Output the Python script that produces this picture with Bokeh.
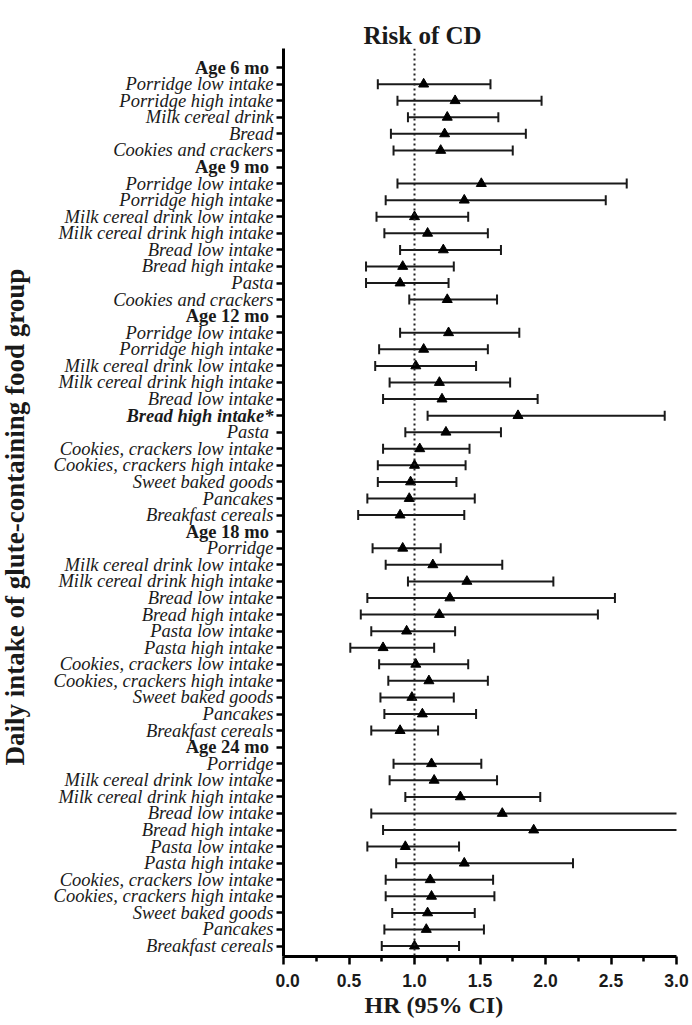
import math
import numpy as np
from bokeh.plotting import figure
from bokeh.layouts import row
from bokeh.models import (ColumnDataSource, Range1d, FixedTicker, Span, Title,
                          NumeralTickFormatter)
from bokeh.core.properties import value, field
from bokeh.embed import file_html
from bokeh.resources import INLINE

# ---------------- data ----------------
labels = [
    "Age 6 mo\u00a0", "Porridge low intake", "Porridge high intake", "Milk cereal drink",
    "Bread", "Cookies and crackers",
    "Age 9 mo\u00a0", "Porridge low intake", "Porridge high intake",
    "Milk cereal drink low intake", "Milk cereal drink high intake", "Bread low intake",
    "Bread high intake", "Pasta", "Cookies and crackers",
    "Age 12 mo\u00a0", "Porridge low intake", "Porridge high intake",
    "Milk cereal drink low intake", "Milk cereal drink high intake", "Bread low intake",
    "Bread high intake*", "Pasta\u00a0", "Cookies, crackers low intake",
    "Cookies, crackers high intake", "Sweet baked goods", "Pancakes", "Breakfast cereals",
    "Age 18 mo\u00a0", "Porridge", "Milk cereal drink low intake",
    "Milk cereal drink high intake", "Bread low intake", "Bread high intake",
    "Pasta low intake", "Pasta high intake", "Cookies, crackers low intake",
    "Cookies, crackers high intake", "Sweet baked goods", "Pancakes", "Breakfast cereals",
    "Age 24 mo\u00a0", "Porridge", "Milk cereal drink low intake",
    "Milk cereal drink high intake", "Bread low intake", "Bread high intake",
    "Pasta low intake", "Pasta high intake", "Cookies, crackers low intake",
    "Cookies, crackers high intake", "Sweet baked goods", "Pancakes", "Breakfast cereals",
]

hr = [
    None, 1.07, 1.31, 1.25, 1.23, 1.20,
    None, 1.51, 1.38, 1.00, 1.10, 1.22, 0.91, 0.89, 1.25,
    None, 1.26, 1.07, 1.01, 1.19, 1.21, 1.79, 1.24, 1.04, 1.00, 0.97, 0.96, 0.89,
    None, 0.91, 1.14, 1.40, 1.27, 1.19, 0.94, 0.76, 1.01, 1.11, 0.98, 1.06, 0.89,
    None, 1.13, 1.15, 1.35, 1.67, 1.91, 0.93, 1.38, 1.12, 1.13, 1.10, 1.09, 1.00,
]
ci_low = [
    None, 0.72, 0.87, 0.95, 0.82, 0.84,
    None, 0.87, 0.78, 0.71, 0.77, 0.89, 0.63, 0.63, 0.96,
    None, 0.89, 0.73, 0.70, 0.81, 0.76, 1.10, 0.93, 0.76, 0.72, 0.72, 0.64, 0.57,
    None, 0.68, 0.78, 0.95, 0.64, 0.59, 0.67, 0.51, 0.73, 0.80, 0.74, 0.77, 0.67,
    None, 0.84, 0.81, 0.93, 0.67, 0.76, 0.64, 0.86, 0.78, 0.78, 0.83, 0.77, 0.75,
]
ci_high = [
    None, 1.58, 1.97, 1.64, 1.85, 1.75,
    None, 2.62, 2.46, 1.41, 1.56, 1.66, 1.30, 1.26, 1.63,
    None, 1.80, 1.56, 1.47, 1.73, 1.94, 2.91, 1.66, 1.42, 1.39, 1.32, 1.46, 1.38,
    None, 1.20, 1.67, 2.06, 2.53, 2.40, 1.31, 1.15, 1.41, 1.56, 1.30, 1.47, 1.18,
    None, 1.51, 1.63, 1.96, 3.50, 4.00, 1.34, 2.21, 1.60, 1.61, 1.46, 1.53, 1.34,
]

x_ticks = [0.0, 0.5, 1.0, 1.5, 2.0, 2.5, 3.0]
x_minor = [0.25, 0.75, 1.25, 1.75, 2.25, 2.75]

title_text = "Risk of CD"
x_title = "HR (95% CI)"
y_title = "Daily intake of glute-containing food group"

# ---------------- build ----------------
n = len(labels)
ypos = list(range(n))


def _arr(a):
    return np.array([np.nan if v is None else v for v in a], dtype=float)


styles = []
for lab, h in zip(labels, hr):
    if h is None:
        styles.append("bold")
    elif lab.endswith("*"):
        styles.append("bold italic")
    else:
        styles.append("italic")

SERIF = "Liberation Serif"
INK = "#1a1a1a"

W, H = 692, 1025
TOP, BOTTOM = 48, 69
LEFT_W = 275          # width of the label panel
AXIS_PAD = 8          # room for the y axis ticks inside the main figure
FRAME_R = 16

y_range = Range1d(n - 1 + 0.63, -1.15)

src = ColumnDataSource(dict(
    y=ypos, hr=_arr(hr), lo=_arr(ci_low), hi=_arr(ci_high),
    text=labels, style=styles, xr=[LEFT_W] * n,
))

# ---- left panel with the row labels and the y title ----
lf = figure(width=LEFT_W, height=H, x_range=Range1d(0, LEFT_W), y_range=y_range,
            x_axis_type=None, y_axis_type=None, output_backend="svg",
            toolbar_location=None, min_border_left=0, min_border_right=0,
            min_border_top=TOP, min_border_bottom=BOTTOM)
lf.outline_line_color = None
lf.grid.visible = False
lf.text(x="xr", y="y", text="text", source=src, x_offset=-2,
        text_align="right", text_baseline="middle", text_font=value(SERIF),
        text_font_size="18.5px", text_font_style=field("style"), text_color=INK)
lf.text(x=[14], y=[27.12], text=[y_title], angle=math.pi / 2,
        text_align="center", text_baseline="middle", text_font=value(SERIF),
        text_font_size="27px", text_font_style="bold", text_color=INK)

# ---- main forest plot ----
p = figure(width=W - LEFT_W, height=H, x_range=Range1d(0, 3), y_range=y_range,
           title=None, output_backend="svg", toolbar_location=None,
           min_border_left=AXIS_PAD, min_border_top=TOP, min_border_right=FRAME_R,
           min_border_bottom=BOTTOM)
p.outline_line_color = None
p.xgrid.visible = False
p.ygrid.visible = False

# title, plus a transparent spacer entry that lifts it away from the frame
p.add_layout(Title(text=title_text, align="left", offset=80, vertical_align="bottom",
                   standoff=0, text_font=SERIF, text_font_size="25px",
                   text_font_style="bold", text_color=INK), "above")
p.add_layout(Title(text=".", text_font_size="10px", standoff=5, text_alpha=0,
                   text_color="white"), "above")

xa = p.xaxis[0]
xa.ticker = FixedTicker(ticks=x_ticks, minor_ticks=x_minor)
xa.formatter = NumeralTickFormatter(format="0.0")
xa.axis_line_width = 3
xa.major_tick_line_width = 2.5
xa.minor_tick_line_width = 2.5
xa.major_tick_out = 8
xa.major_tick_in = 0
xa.minor_tick_out = 5
xa.minor_tick_in = 0
xa.major_label_text_font = "Liberation Sans"
xa.major_label_text_font_style = "bold"
xa.major_label_text_font_size = "17.5px"
xa.major_label_text_color = INK
xa.major_label_standoff = 9

p.add_layout(Title(text=x_title, align="left", offset=81, standoff=4,
                   vertical_align="top",
                   text_font=SERIF, text_font_size="24px", text_font_style="bold",
                   text_color=INK), "below")

ya = p.yaxis[0]
ya.ticker = FixedTicker(ticks=ypos, minor_ticks=[])
ya.axis_line_width = 3
ya.major_tick_line_width = 2.5
ya.major_tick_out = 7
ya.major_tick_in = 0
ya.minor_tick_out = 0
ya.major_label_text_font_size = "0px"
ya.major_label_standoff = 0

p.add_layout(Span(location=1.0, dimension="height", line_color="#222222",
                  line_width=2, line_dash="2 3"))

p.segment(x0="lo", y0="y", x1="hi", y1="y", source=src, line_color=INK, line_width=2)
p.scatter(x="lo", y="y", source=src, marker="dash", angle=math.pi / 2, size=10,
          line_color=INK, line_width=2)
p.scatter(x="hi", y="y", source=src, marker="dash", angle=math.pi / 2, size=10,
          line_color=INK, line_width=2)
p.scatter(x="hr", y="y", source=src, marker="triangle", size=10,
          fill_color="black", line_color="black", line_width=1)

layout = row(lf, p, spacing=0)
open("out.html", "w").write(file_html(layout, INLINE))
